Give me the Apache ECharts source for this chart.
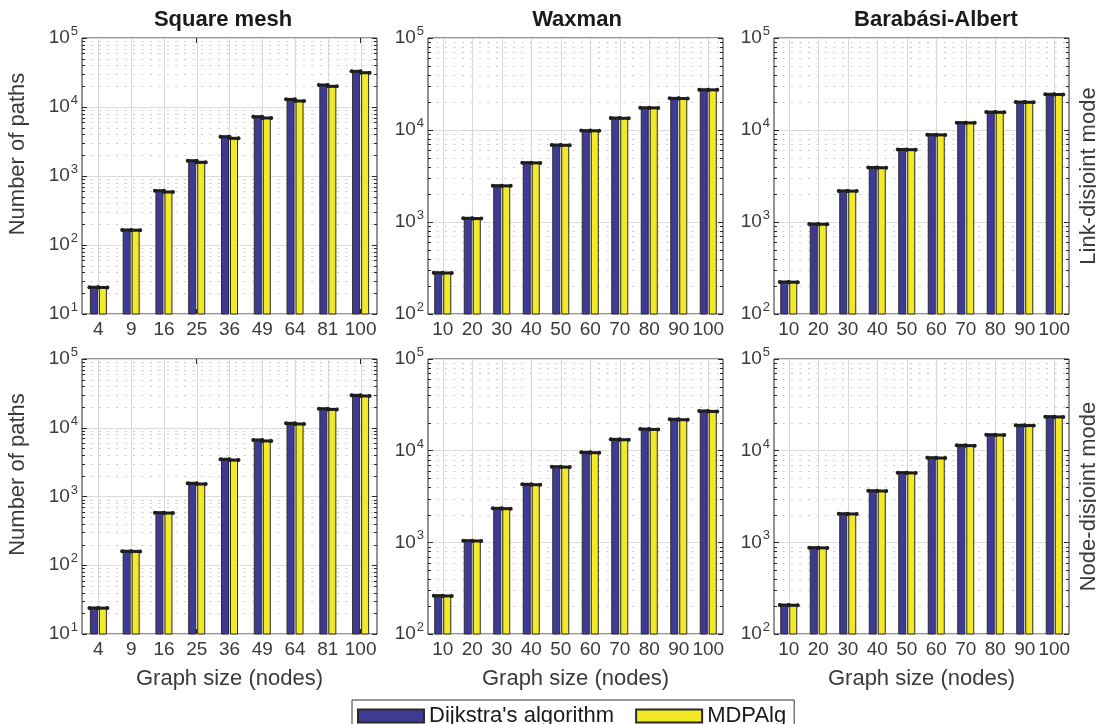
<!DOCTYPE html>
<html>
<head>
<meta charset="utf-8">
<script src="https://cdn.jsdelivr.net/npm/echarts@6/dist/echarts.min.js"></script>
<style>html,body{margin:0;padding:0;background:#fff}#chart{width:1096px;height:724px}</style>
</head>
<body>
<div id="chart"></div>
<script>
// ---- data ----
const squareSizes = ['4','9','16','25','36','49','64','81','100'];
const randomSizes = ['10','20','30','40','50','60','70','80','90','100'];
const seriesNames = ["Dijkstra's algorithm", 'MDPAlg'];
const panelTitles = ['Square mesh', 'Waxman', 'Barabási-Albert'];
const rowLabels = ['Link-disjoint mode', 'Node-disjoint mode'];
const yAxisName = 'Number of paths';
const xAxisName = 'Graph size (nodes)';
const minorMultipliers = [2,3,4,5,6,7,8,9];

const meshLinkDijkstra = [24.4, 165, 612, 1667, 3715, 7244, 12900, 20850, 32900];
const meshLinkMDP      = [24.2, 164, 587, 1580, 3517, 6930, 12220, 19950, 31400];
const waxLinkDijkstra  = [281, 1097, 2482, 4415, 6870, 9845, 13490, 17450, 22080, 27400];
const waxLinkMDP       = [279, 1090, 2470, 4390, 6830, 9800, 13420, 17380, 21980, 27300];
const baLinkDijkstra   = [223, 951, 2178, 3909, 6138, 8892, 12020, 15670, 20140, 24440];
const baLinkMDP        = [222, 946, 2168, 3890, 6110, 8850, 11960, 15600, 20050, 24330];
const meshNodeDijkstra = [23.9, 160, 582, 1555, 3475, 6640, 11590, 18920, 29650];
const meshNodeMDP      = [23.8, 159, 575, 1520, 3390, 6430, 11350, 18500, 29000];
const waxNodeDijkstra  = [262, 1043, 2350, 4294, 6683, 9590, 13300, 17220, 21980, 27100];
const waxNodeMDP       = [260, 1035, 2330, 4250, 6620, 9500, 13170, 17050, 21760, 26800];
const baNodeDijkstra   = [207, 875, 2052, 3654, 5754, 8375, 11430, 14930, 18920, 23500];
const baNodeMDP        = [206, 870, 2040, 3630, 5720, 8320, 11350, 14830, 18800, 23350];

// ---- layout / style ----
const FONT = '"Liberation Sans", Arial, Helvetica, sans-serif';
const TXT = '#3a3a3a';
const BLUE = '#3f3a93';
const YELLOW = '#f2ea26';
const colLeft = [82, 428, 774];
const rowTop = [38, 359];
const rowHeight = [276, 275];
const gridW = 295;
const titleCenters = [223, 577, 936];
const BAR_W = 8;
const BAR_GAP = 1;

const panels = [
  {row:0, col:0, cats:squareSizes, min:10,  a:meshLinkDijkstra, b:meshLinkMDP},
  {row:0, col:1, cats:randomSizes, min:100, a:waxLinkDijkstra,  b:waxLinkMDP},
  {row:0, col:2, cats:randomSizes, min:100, a:baLinkDijkstra,   b:baLinkMDP},
  {row:1, col:0, cats:squareSizes, min:10,  a:meshNodeDijkstra, b:meshNodeMDP},
  {row:1, col:1, cats:randomSizes, min:100, a:waxNodeDijkstra,  b:waxNodeMDP},
  {row:1, col:2, cats:randomSizes, min:100, a:baNodeDijkstra,   b:baNodeMDP},
];
const MAXV = 100000;

const grids = [], xAxes = [], yAxes = [], series = [];

function yLabel(v) {
  const e = Math.round(Math.log10(v));
  return '{b|10}{s|' + e + '}';
}

panels.forEach((p, i) => {
  grids.push({
    left: colLeft[p.col], top: rowTop[p.row], width: gridW, height: rowHeight[p.row],
    outerBoundsMode: 'none', containLabel: false,
    show: true, borderColor: '#262626', borderWidth: 1, backgroundColor: '#fff'
  });
  xAxes.push({
    type: 'category', gridIndex: i, data: p.cats, position: 'bottom',
    axisLine: {show: false},
    axisTick: {show: true, inside: true, alignWithLabel: true, length: 5, lineStyle: {color: '#262626'}},
    axisLabel: {fontSize: 19, color: TXT, fontFamily: FONT, margin: 6, interval: 0},
    splitLine: {show: false},
    name: p.row === 1 ? xAxisName : '', nameLocation: 'middle', nameGap: 34,
    nameTextStyle: {fontSize: 22, color: TXT, fontFamily: FONT}
  });
  xAxes.push({
    type: 'category', gridIndex: i, data: p.cats, position: 'top',
    axisLine: {show: false},
    axisTick: {show: true, inside: true, alignWithLabel: true, length: 5, lineStyle: {color: '#262626'}},
    axisLabel: {show: false}, splitLine: {show: false}
  });
  yAxes.push({
    type: 'log', logBase: 10, gridIndex: i, min: p.min, max: MAXV, position: 'left',
    axisLine: {show: false},
    axisTick: {show: true, inside: true, length: 5, lineStyle: {color: '#262626'}},
    axisLabel: {
      formatter: yLabel, margin: 4,
      rich: {
        b: {fontSize: 19, color: TXT, fontFamily: FONT, lineHeight: 26},
        s: {fontSize: 13, color: TXT, fontFamily: FONT, verticalAlign: 'top', lineHeight: 13, padding: [0, 0, 0, 1]}
      }
    },
    splitLine: {show: true, lineStyle: {color: '#dcdcdc', width: 1}},
    name: p.col === 0 ? yAxisName : '', nameLocation: 'middle', nameGap: 53,
    nameTextStyle: {fontSize: 22, color: TXT, fontFamily: FONT, padding: [0, 0, 0, 44]}
  });
  yAxes.push({
    type: 'log', logBase: 10, gridIndex: i, min: p.min, max: MAXV, position: 'right',
    axisLine: {show: false},
    axisTick: {show: true, inside: true, length: 5, lineStyle: {color: '#262626'}},
    axisLabel: {show: false}, splitLine: {show: false},
    name: p.col === 2 ? rowLabels[p.row] : '', nameLocation: 'middle', nameGap: 9,
    nameTextStyle: {fontSize: 22, color: TXT, fontFamily: FONT}
  });

  const xi = 2 * i, yi = 2 * i;

  // minor grid lines + minor ticks (log decades)
  const minorData = [];
  for (let d = p.min; d < MAXV; d *= 10) minorMultipliers.forEach(m => minorData.push([0, m * d]));
  series.push({
    type: 'custom', xAxisIndex: xi, yAxisIndex: yi, z: 1, silent: true,
    encode: {x: 0, y: 1}, data: minorData,
    renderItem: function (params, api) {
      const cs = params.coordSys;
      const y = Math.round(api.coord([0, api.value(1)])[1]) + 0.5;
      return {type: 'group', children: [
        {type: 'line', shape: {x1: cs.x, y1: y, x2: cs.x + cs.width, y2: y},
         style: {stroke: '#cdcdcd', lineWidth: 1, lineDash: [2, 6.5]}},
        {type: 'line', shape: {x1: cs.x, y1: y, x2: cs.x + 3, y2: y}, style: {stroke: '#262626', lineWidth: 1}},
        {type: 'line', shape: {x1: cs.x + cs.width - 3, y1: y, x2: cs.x + cs.width, y2: y}, style: {stroke: '#262626', lineWidth: 1}}
      ]};
    }
  });
  // vertical grid lines at category centers
  series.push({
    type: 'custom', xAxisIndex: xi, yAxisIndex: yi, z: 1, silent: true,
    encode: {x: 0, y: 1}, data: p.cats.map((c, k) => [k, p.min]),
    renderItem: function (params, api) {
      const cs = params.coordSys;
      const x = Math.round(api.coord([api.value(0), p.min])[0]) + 0.5;
      return {type: 'line', shape: {x1: x, y1: cs.y, x2: x, y2: cs.y + cs.height},
              style: {stroke: '#d8d8d8', lineWidth: 1}};
    }
  });

  [p.a, p.b].forEach((vals, s) => {
    series.push({
      type: 'bar', name: seriesNames[s], xAxisIndex: xi, yAxisIndex: yi, z: 2,
      data: vals, barWidth: BAR_W, barGap: (BAR_GAP / BAR_W * 100) + '%',
      itemStyle: {color: s === 0 ? BLUE : YELLOW, borderColor: '#2a2a2a', borderWidth: 1},
      emphasis: {disabled: true}, animation: false
    });
  });
  // error-bar caps
  [p.a, p.b].forEach((vals, s) => {
    series.push({
      type: 'custom', xAxisIndex: xi, yAxisIndex: yi, z: 3, silent: true,
      encode: {x: 0, y: 1}, data: vals.map((v, k) => [k, v]),
      renderItem: function (params, api) {
        const pt = api.coord([api.value(0), api.value(1)]);
        const off = (BAR_W + BAR_GAP) / 2 * (s === 0 ? -1 : 1);
        const cx = pt[0] + off, cy = pt[1];
        const hw = BAR_W / 2 + 1;
        return {type: 'group', children: [
          {type: 'rect', shape: {x: cx - hw, y: cy - 1.5, width: 2 * hw, height: 3}, style: {fill: '#1e1e1e'}},
          {type: 'circle', shape: {cx: cx - hw + 0.5, cy: cy, r: 2}, style: {fill: '#1e1e1e'}},
          {type: 'circle', shape: {cx: cx + hw - 0.5, cy: cy, r: 2}, style: {fill: '#1e1e1e'}}
        ]};
      }
    });
  });
});

const titles = panelTitles.map((t, c) => ({
  text: t, left: titleCenters[c], top: 9, textAlign: 'center', padding: 0,
  textStyle: {fontSize: 22, fontWeight: 'bold', color: '#1a1a1a', fontFamily: FONT}
}));

const chart = echarts.init(document.getElementById('chart'), null, {renderer: 'canvas'});
chart.setOption({
  animation: false,
  backgroundColor: '#fff',
  title: titles,
  legend: {
    data: seriesNames, left: 352, top: 700, orient: 'horizontal',
    icon: 'rect', itemWidth: 66, itemHeight: 13, itemGap: 21,
    borderColor: '#333', borderWidth: 1, padding: [5, 8, 5, 5],
    backgroundColor: '#fff',
    textStyle: {fontSize: 22, color: '#1a1a1a', fontFamily: FONT}
  },
  grid: grids, xAxis: xAxes, yAxis: yAxes, series: series
});
</script>
</body>
</html>
